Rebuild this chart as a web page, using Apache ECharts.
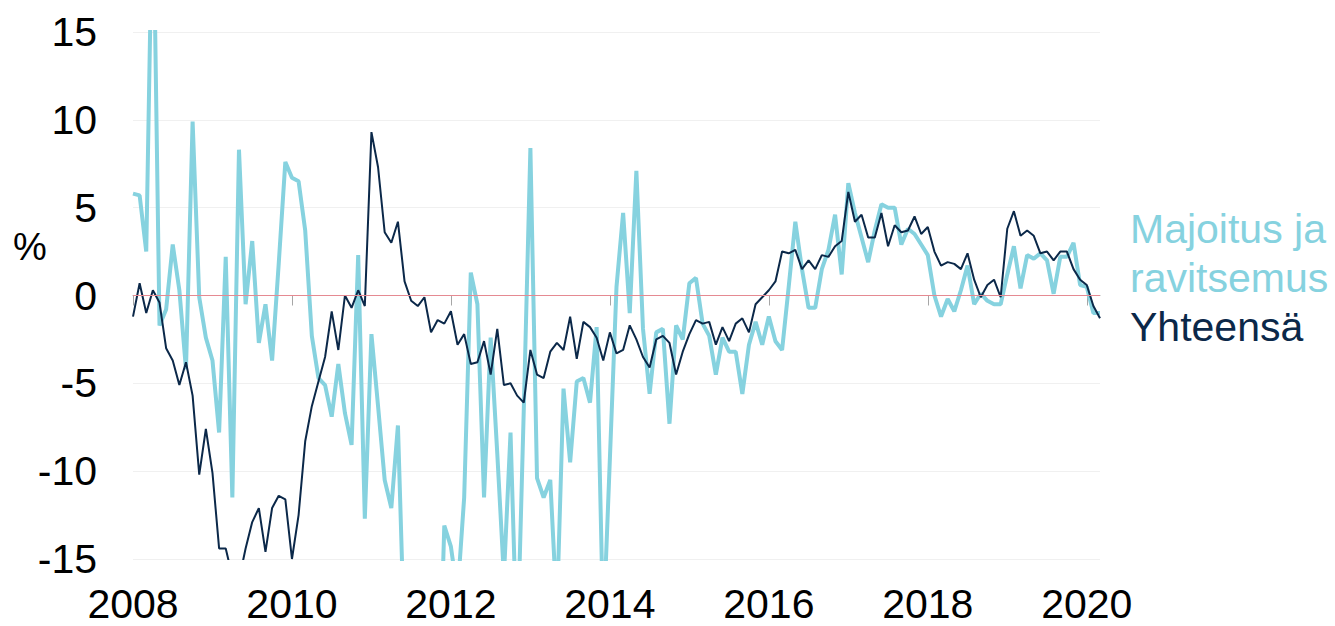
<!DOCTYPE html>
<html>

<head>
  <meta charset="utf-8" />
  <title>Majoitus ja ravitsemus</title>
  <style type="text/css">
    html, body {
      margin: 0;
      padding: 0;
      background: #fff;
    }

    #main {
      width: 1335px;
      height: 626px;
    }
  </style>
</head>

<body>
  <div id="main"></div>
  <script src="https://cdn.jsdelivr.net/npm/echarts@6/dist/echarts.min.js"></script>
  <script>
    // kuukaudet 2008-01 ... 2020-03
    var years = [2008, 2009, 2010, 2011, 2012, 2013, 2014, 2015, 2016, 2017, 2018, 2019, 2020];
    var lastMonth = 3;
    var months = [];
    years.forEach(function (y) {
      for (var m = 1; m <= 12; m++) {
        if (y === 2020 && m > lastMonth) break;
        months.push(y + '-' + (m < 10 ? '0' + m : m));
      }
    });

    var yTicks = [-15, -10, -5, 0, 5, 10, 15];

    // Yhteensä, % (vuosimuutos)
    var yhteensa = [
      -1.2, 0.7, -1.0, 0.3, -0.4, -3.0, -3.7, -5.1, -3.8, -5.7, -10.2, -7.6,
      -10.1, -14.4, -14.4, -16.0, -16.2, -14.4, -12.9, -12.1, -14.6, -12.1, -11.4, -11.6,
      -15.0, -12.5, -8.3, -6.3, -4.9, -3.5, -0.9, -3.1, 0.0, -0.7, 0.3, -0.6,
      9.3, 7.3, 3.6, 3.0, 4.2, 0.8, -0.3, -0.6, -0.1, -2.1, -1.4, -1.6,
      -0.9, -2.8, -2.2, -3.9, -3.8, -2.6, -4.5, -1.9, -5.1, -5.0, -5.7, -6.1,
      -3.1, -4.5, -4.7, -3.2, -2.7, -3.1, -1.2, -3.6, -1.5, -1.8, -2.4, -3.7,
      -2.1, -3.3, -3.1, -1.7, -2.5, -3.5, -4.1, -2.5, -2.3, -2.7, -4.5, -3.2,
      -2.2, -1.4, -1.6, -1.5, -2.8, -1.8, -2.6, -1.6, -1.3, -2.1, -0.5, -0.1,
      0.3, 0.8, 2.5, 2.4, 2.6, 1.5, 2.0, 1.5, 2.3, 2.2, 2.8, 3.1,
      5.9, 4.2, 4.6, 3.3, 3.3, 4.7, 2.8, 4.0, 3.6, 3.7, 4.5, 3.5,
      3.9, 2.5, 1.7, 1.9, 1.8, 1.5, 2.4, 0.9, -0.1, 0.6, 0.9, -0.1,
      3.8, 4.8, 3.4, 3.7, 3.4, 2.4, 2.5, 2.0, 2.5, 2.5, 1.5, 0.9,
      0.6, -0.6, -1.3
    ];

    // Majoitus ja ravitsemus, %
    var majoitus = [
      5.8, 5.7, 2.5, 24.0, -1.7, -0.8, 2.9, 0.3, -4.2, 9.9, -0.1, -2.4,
      -3.7, -7.8, 2.2, -11.5, 8.3, -0.5, 3.1, -2.7, -0.5, -3.7, 1.8, 7.6,
      6.7, 6.5, 3.7, -2.3, -4.7, -5.1, -6.9, -3.9, -6.7, -8.5, 2.3, -12.7,
      -2.2, -6.3, -10.5, -12.1, -7.4, -20.0, -22.0, -19.0, -24.0, -21.0, -26.0, -13.1,
      -14.3, -17.0, -11.5, 1.3, -0.5, -11.5, -2.4, -9.0, -16.0, -7.8, -20.5, -6.5,
      8.4, -10.4, -11.5, -10.5, -18.0, -5.3, -9.5, -4.9, -4.7, -6.1, -1.8, -19.0,
      -9.3, 0.5, 4.7, -1.0, 7.1, -1.9, -5.6, -2.1, -1.9, -7.3, -1.7, -2.5,
      0.7, 1.0, -1.6, -2.3, -4.5, -2.4, -3.2, -3.2, -5.6, -2.8, -1.5, -2.8,
      -1.2, -2.6, -3.1, 0.5, 4.2, 1.5, -0.7, -0.7, 1.5, 2.6, 4.6, 1.2,
      6.4, 4.7, 3.3, 1.9, 3.7, 5.2, 5.0, 5.0, 2.9, 3.8, 3.5, 2.9,
      2.3, 0.0, -1.2, -0.2, -0.9, 0.3, 1.7, -0.5, 0.1, -0.3, -0.5, -0.5,
      1.2, 2.8, 0.4, 2.3, 2.1, 2.4, 2.0, 0.1, 2.2, 2.2, 3.0, 0.6,
      0.5, -1.0, -1.0
    ];

    var colorLight = '#86d2df';
    var colorDark = '#0b2849';
    var fontFamily = '"Liberation Sans", Arial, sans-serif';

    var myChart = echarts.init(document.getElementById('main'), null, {
      renderer: 'svg'
    });

    var option = {
      animation: false,
      backgroundColor: '#fff',
      grid: {
        left: 133,
        right: 235,
        top: 32,
        bottom: 67
      },
      xAxis: {
        type: 'category',
        data: months,
        boundaryGap: false,
        axisLine: {
          lineStyle: {
            color: '#a6a6a6',
            width: 1
          }
        },
        axisTick: {
          show: true,
          interval: 23,
          length: 10,
          lineStyle: {
            color: '#a6a6a6'
          }
        },
        axisLabel: {
          interval: 23,
          margin: 24,
          color: '#000',
          fontSize: 41,
          fontFamily: fontFamily,
          formatter: function (val) {
            return val.slice(0, 4);
          }
        },
        splitLine: {
          show: false
        }
      },
      yAxis: {
        type: 'value',
        min: yTicks[0],
        max: yTicks[yTicks.length - 1],
        interval: 5,
        axisLine: {
          show: false
        },
        axisTick: {
          show: false
        },
        axisLabel: {
          margin: 36,
          color: '#000',
          fontSize: 41,
          fontFamily: fontFamily
        },
        splitLine: {
          lineStyle: {
            color: '#f0f0f0',
            width: 1
          }
        }
      },
      graphic: [{
        type: 'text',
        left: 13,
        top: 228,
        style: {
          text: '%',
          fill: '#000',
          font: '38px ' + fontFamily
        }
      }, {
        type: 'text',
        left: 1130,
        top: 204,
        style: {
          text: 'Majoitus ja\nravitsemus',
          fill: colorLight,
          font: '41px ' + fontFamily,
          lineHeight: 49
        }
      }, {
        type: 'text',
        left: 1130,
        top: 302,
        style: {
          text: 'Yhteensä',
          fill: colorDark,
          font: '41px ' + fontFamily,
          lineHeight: 49
        }
      }],
      series: [{
        name: 'Majoitus ja ravitsemus',
        type: 'line',
        data: majoitus,
        symbol: 'none',
        clip: true,
        lineStyle: {
          color: colorLight,
          width: 4
        },
        z: 2
      }, {
        name: 'Yhteensä',
        type: 'line',
        data: yhteensa,
        symbol: 'none',
        clip: true,
        lineStyle: {
          color: colorDark,
          width: 2
        },
        markLine: {
          silent: true,
          symbol: 'none',
          label: {
            show: false
          },
          lineStyle: {
            color: '#e58a92',
            width: 1,
            type: 'solid'
          },
          data: [{
            yAxis: 0
          }]
        },
        z: 3
      }]
    };
    myChart.setOption(option);
  </script>
</body>

</html>
